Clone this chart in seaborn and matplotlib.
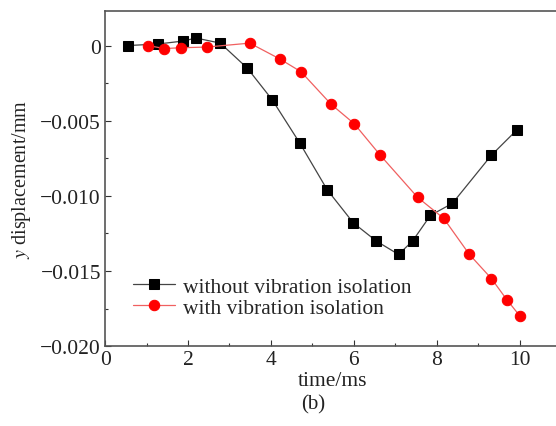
import matplotlib
matplotlib.use("Agg")
import matplotlib.pyplot as plt
import seaborn as sns
import pandas as pd
from matplotlib.ticker import MultipleLocator, FuncFormatter

# data
t_without = [0.56, 1.27, 1.89, 2.19, 2.78, 3.43, 4.03, 4.70, 5.36, 5.99, 6.54, 7.08, 7.42, 7.85, 8.38, 9.32, 9.94]
y_without = [0.0000, 0.0001, 0.0003, 0.0005, 0.00016, -0.0015, -0.0036, -0.0065, -0.0096, -0.0118,
             -0.0130, -0.0139, -0.0130, -0.0113, -0.0105, -0.0073, -0.0056]
t_with = [1.03, 1.43, 1.82, 2.46, 3.49, 4.22, 4.73, 5.45, 6.01, 6.64, 7.54, 8.17, 8.79, 9.32, 9.69, 10.01]
y_with = [0.0000, -0.0002, -0.00015, -0.0001, 0.00016, -0.0009, -0.00175, -0.0039, -0.0052, -0.0073,
          -0.0101, -0.0115, -0.0139, -0.0155, -0.0169, -0.0180]
labels = ["without vibration isolation", "with vibration isolation"]

sns.set_style("ticks")
plt.rcParams['font.family'] = ['Liberation Serif', 'DejaVu Serif']
plt.rcParams['mathtext.fontset'] = 'stix'
plt.rcParams['xtick.direction'] = 'in'
plt.rcParams['ytick.direction'] = 'in'

df1 = pd.DataFrame({"t": t_without, "y": y_without})
df2 = pd.DataFrame({"t": t_with, "y": y_with})

fig = plt.figure(figsize=(5.56, 4.27), dpi=100)
ax = fig.add_axes([0.189, 0.187, 0.82, 0.785])

sns.lineplot(data=df1, x="t", y="y", ax=ax, color="#444444", lw=0.9, marker="s", markersize=6.5,
             markerfacecolor="black", markeredgecolor="black", label=labels[0])
sns.lineplot(data=df2, x="t", y="y", ax=ax, color="#f06060", lw=0.9, marker="o", markersize=7.5,
             markerfacecolor="red", markeredgecolor="red", label=labels[1])

ax.set_xlim(0, 11)
ax.set_ylim(-0.020, 0.0023)
ax.xaxis.set_major_locator(MultipleLocator(2))
ax.xaxis.set_minor_locator(MultipleLocator(1))
ax.yaxis.set_major_locator(MultipleLocator(0.005))
ax.yaxis.set_minor_locator(MultipleLocator(0.0025))


def yfmt(v, pos):
    if abs(v) < 1e-9:
        return "0"
    return "\u2212%.3f" % abs(v) if v < 0 else "%.3f" % v


ax.yaxis.set_major_formatter(FuncFormatter(yfmt))
ax.tick_params(which="major", length=4, width=0.8, labelsize=15.5, colors="#333333", labelcolor="#222222", pad=3)
ax.tick_params(which="minor", length=2.5, width=0.8, colors="#333333")
ax.tick_params(top=False, right=False, which="both")
for s in ax.spines.values():
    s.set_color("#555555")
    s.set_linewidth(1.2)

ax.set_xlabel("time/ms", fontsize=15.5, color="#222222", labelpad=1)
ax.set_ylabel("$y$ displacement/mm", fontsize=14.5, color="#222222", labelpad=5)

ax.legend(loc="center left", bbox_to_anchor=(0.062, 0.146), frameon=False, fontsize=15.5,
          handlelength=1.95, handletextpad=0.37, labelspacing=0.05, borderpad=0, borderaxespad=0)

fig.text(0.563, 0.052, "(b)", ha="center", va="center", fontsize=15, color="#222222")

fig.savefig("out.png", dpi=100)
